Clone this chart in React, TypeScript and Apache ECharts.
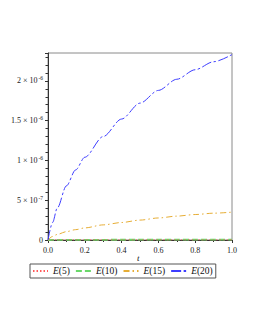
import React, { useEffect, useRef } from "react";
import * as echarts from "echarts";

// values in units of 1e-6
const tValues = [0, 0.025, 0.05, 0.1, 0.15, 0.2, 0.3, 0.4, 0.5, 0.6, 0.7, 0.8, 0.9, 1.0];
const e5 = [0, 0.00002, 0.00004, 0.00007, 0.0001, 0.00012, 0.00015, 0.00018, 0.0002, 0.00022, 0.00024, 0.00026, 0.00027, 0.00028];
const e10 = [0, 0.0007, 0.001, 0.0015, 0.0019, 0.0022, 0.0027, 0.0031, 0.0035, 0.0038, 0.0041, 0.0044, 0.0046, 0.0048];
const e15 = [0, 0.045, 0.07, 0.105, 0.13, 0.152, 0.19, 0.22, 0.25, 0.277, 0.3, 0.32, 0.337, 0.35];
const e20 = [0, 0.22, 0.4, 0.68, 0.88, 1.04, 1.3, 1.52, 1.72, 1.88, 2.02, 2.14, 2.24, 2.33];
const seriesNames = ["E(5)", "E(10)", "E(15)", "E(20)"];
const yTickLabels = ["0", "5 × 10{sup|-7}", "1 × 10{sup|-6}", "1.5 × 10{sup|-6}", "2 × 10{sup|-6}"];
const xAxisTitle = "t";

const FONT = "'Liberation Serif', 'DejaVu Serif', serif";

export default function App() {
  const ref = useRef<HTMLDivElement>(null);
  useEffect(() => {
    if (!ref.current) return;
    const chart = echarts.init(ref.current, undefined, { renderer: "svg" });
    const mk = (vals: number[]) => tValues.map((t, i) => [t, vals[i]]);
    const styles = [
      { color: "#ff5a5a", width: 1, type: [1.5, 2] as any },
      { color: "#6ad86a", width: 1.8, type: [6, 3] as any },
      { color: "#e6ad35", width: 1, type: [6, 3, 1.5, 3] as any },
      { color: "#3c3cff", width: 1, type: [10, 2.5, 2.5, 2.5] as any },
    ];
    const data = [e5, e10, e15, e20];
    const order = [1, 0, 2, 3];
    chart.setOption({
      animation: false,
      grid: {
        left: 48,
        right: 23,
        top: 53,
        bottom: 90,
        show: true,
        borderColor: "#8a8a8a",
        borderWidth: 1,
      },
      graphic: [
        {
          type: "text",
          left: 137,
          top: 253,
          style: { text: xAxisTitle, fontFamily: FONT, fontStyle: "italic", fontSize: 9, fill: "#111" },
        },
      ],
      legend: {
        data: seriesNames,
        left: 30,
        top: 264,
        itemWidth: 15,
        itemHeight: 8,
        itemGap: 5,
        borderColor: "#555",
        borderWidth: 1,
        padding: [2, 3, 2, 2],
        itemStyle: { opacity: 0 },
        textStyle: {
          fontFamily: FONT,
          fontSize: 9.5,
          color: "#111",
          rich: { i: { fontStyle: "italic", fontFamily: FONT, fontSize: 9.5, color: "#111" } },
        },
        formatter: (name: string) => "{i|E}" + name.slice(1),
      },
      xAxis: {
        type: "value",
        min: 0,
        max: 1,
        interval: 0.2,
        axisLine: { show: true, lineStyle: { color: "#333", width: 1 } },
        axisTick: { show: true, length: 3, lineStyle: { color: "#333" } },
        minorTick: { show: true, splitNumber: 2, length: 2, lineStyle: { color: "#333" } },
        splitLine: { show: false },
        axisLabel: {
          fontFamily: FONT,
          fontSize: 8,
          color: "#222",
          margin: 6,
          formatter: (v: number) => v.toFixed(1),
        },
      },
      yAxis: {
        type: "value",
        min: 0,
        max: 2.35,
        interval: 0.5,
        axisLine: { show: true, lineStyle: { color: "#333", width: 1 } },
        axisTick: { show: true, length: 3, lineStyle: { color: "#333" } },
        minorTick: { show: true, splitNumber: 5, length: 2.5, lineStyle: { color: "#333" } },
        splitLine: { show: false },
        axisLabel: {
          showMaxLabel: false,
          fontFamily: FONT,
          fontSize: 8,
          color: "#222",
          margin: 5,
          rich: { sup: { fontFamily: FONT, fontSize: 5.5, verticalAlign: "top", padding: [0, 0, 5, 1], color: "#222" } },
          formatter: (v: number) => {
            const k = Math.round(v / 0.5);
            if (Math.abs(v - k * 0.5) > 1e-6) return "";
            return yTickLabels[k] ?? "";
          },
        },
      },
      series: order.map((k) => ({
        name: seriesNames[k],
        type: "line",
        data: mk(data[k]),
        symbol: "none",
        showSymbol: false,
        smooth: 0.3,
        smoothMonotone: "x",
        z: k === 0 ? 6 : 3 + k,
        lineStyle: styles[k],
        itemStyle: { color: styles[k].color },
      })),
    });
    return () => chart.dispose();
  }, []);
  return <div ref={ref} style={{ width: 255, height: 330, position: "absolute", left: 0, top: 0 }} />;
}
